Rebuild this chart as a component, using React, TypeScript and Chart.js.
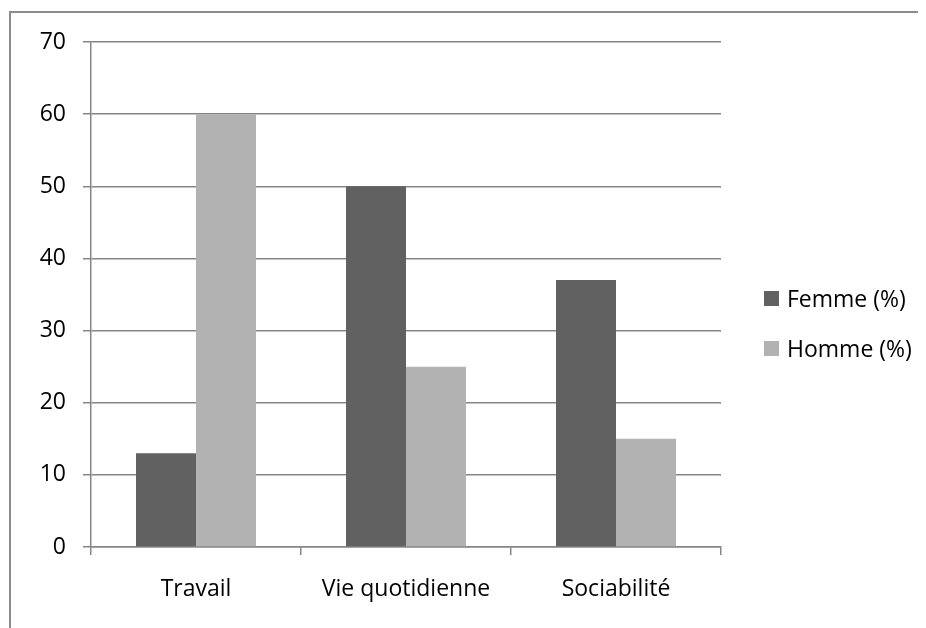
import React, { useEffect, useRef } from "react";
import { Chart, registerables } from "chart.js";

Chart.register(...registerables);

const categories = ["Travail", "Vie quotidienne", "Sociabilité"];
const femmeValues = [13, 50, 37];
const hommeValues = [60, 25, 15];
const seriesLabels = ["Femme (%)", "Homme (%)"];
const seriesColors = ["#616161", "#b2b2b2"];

const FONT = "'Open Sans', sans-serif";
const FONT_SIZE = 23;
const GRID = "#868686";

export default function App() {
  const ref = useRef<HTMLCanvasElement | null>(null);

  useEffect(() => {
    if (!ref.current) return;
    const chart = new Chart(ref.current, {
      type: "bar",
      data: {
        labels: categories,
        datasets: [
          {
            label: seriesLabels[0],
            data: femmeValues,
            backgroundColor: seriesColors[0],
            categoryPercentage: 0.5714,
            barPercentage: 1,
          },
          {
            label: seriesLabels[1],
            data: hommeValues,
            backgroundColor: seriesColors[1],
            categoryPercentage: 0.5714,
            barPercentage: 1,
          },
        ],
      },
      options: {
        animation: false,
        responsive: false,
        layout: { padding: { left: 0, top: 34, right: 205, bottom: 0 } },
        plugins: { legend: { display: false }, tooltip: { enabled: false } },
        scales: {
          x: {
            grid: {
              display: true,
              drawOnChartArea: false,
              drawTicks: true,
              tickLength: 8,
              color: GRID,
              lineWidth: 1.5,
              offset: true,
            },
            border: { display: true, color: GRID, width: 1.5 },
            ticks: {
              color: "#000",
              font: { family: FONT, size: FONT_SIZE },
              padding: 21,
              maxRotation: 0,
            },
            afterFit: (s: any) => {
              s.height = 81;
            },
          },
          y: {
            min: 0,
            max: 70,
            grid: {
              color: GRID,
              lineWidth: 1.5,
              drawTicks: true,
              tickLength: 8,
            },
            border: { display: true, color: GRID, width: 1.5 },
            ticks: {
              stepSize: 10,
              color: "#000",
              font: { family: FONT, size: FONT_SIZE },
              padding: 17,
            },
            afterFit: (s: any) => {
              s.width = 83;
            },
          },
        },
      },
    });
    return () => chart.destroy();
  }, []);

  const legendItem = (i: number, top: number) => (
    <div
      key={i}
      style={{
        position: "absolute",
        left: 756,
        top,
        display: "flex",
        alignItems: "center",
        fontFamily: FONT,
        fontSize: FONT_SIZE,
        color: "#000",
        lineHeight: "22px",
      }}
    >
      <span
        style={{
          display: "inline-block",
          width: 15,
          height: 15,
          background: seriesColors[i],
          marginRight: 8,
        }}
      />
      <span>{seriesLabels[i]}</span>
    </div>
  );

  return (
    <div
      style={{
        position: "relative",
        width: 918,
        height: 620,
        overflow: "hidden",
        background: "#fff",
      }}
    >
      <div
        style={{
          position: "absolute",
          left: 1,
          top: 3,
          width: 2000,
          height: 2000,
          borderLeft: "2px solid #8c8c8c",
          borderTop: "2px solid #8c8c8c",
        }}
      />
      <canvas
        ref={ref}
        width={918}
        height={620}
        style={{ position: "absolute", left: 0, top: 0, width: 918, height: 620 }}
      />
      {legendItem(0, 279)}
      {legendItem(1, 329)}
    </div>
  );
}
